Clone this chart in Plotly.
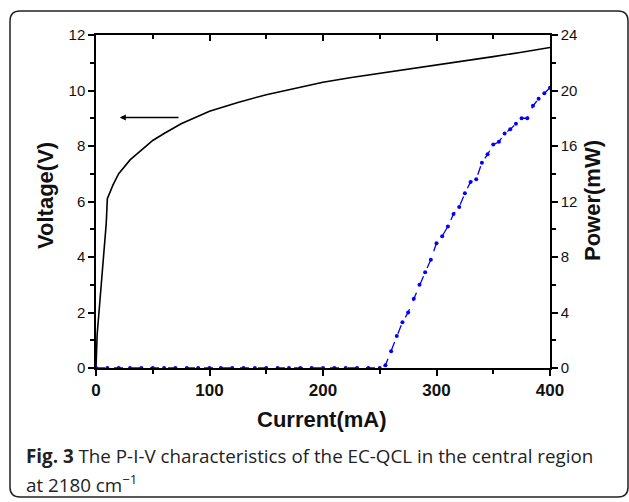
import plotly.graph_objects as go

# Voltage curve (left axis)
current_v = [0, 1, 3, 5, 7, 9, 10, 15, 20, 30, 40, 50, 60, 75, 100, 125, 150,
             175, 200, 225, 250, 275, 300, 325, 350, 375, 400]
voltage = [0, 1.2, 2.2, 3.2, 4.2, 5.2, 6.1, 6.6, 7.0, 7.5, 7.85, 8.2, 8.45, 8.8,
           9.25, 9.57, 9.85, 10.08, 10.3, 10.47, 10.62, 10.76, 10.9, 11.05, 11.22,
           11.38, 11.55]

# Power curve (right axis)
current_p = [0, 10, 20, 30, 40, 50, 60, 70, 80, 90, 100, 110, 120, 130, 140, 150,
             160, 170, 180, 190, 200, 210, 220, 230, 240, 250,
             255, 260, 265, 270, 275, 280, 285, 290, 295, 300, 305, 310, 315, 320,
             325, 330, 335, 340, 345, 350, 355, 360, 365, 370, 375, 380, 385, 390,
             395, 400]
power = [0] * 26 + [0.2, 1.2, 2.3, 3.3, 4.0, 5.0, 6.0, 6.9, 7.8, 9.0, 9.5, 10.2,
                    11.1, 11.6, 12.6, 13.4, 13.6, 14.8, 15.4, 16.1, 16.3, 16.9,
                    17.2, 17.6, 18.0, 18.0, 18.9, 19.4, 19.8, 20.2]

W, H = 629, 502


def px(x):
    return x / W


def py(y):
    return 1 - y / H


fig = go.Figure()
fig.add_trace(go.Scatter(x=current_v, y=voltage, mode="lines",
                         line=dict(color="black", width=1.6),
                         showlegend=False, hoverinfo="skip"))
fig.add_trace(go.Scatter(x=current_p, y=power, mode="lines+markers", yaxis="y2",
                         line=dict(color="#0000ff", width=1.3, dash="dash"),
                         marker=dict(color="#0000ff", size=4),
                         showlegend=False, hoverinfo="skip"))
# dummy trace so that the top tick axis is drawn
fig.add_trace(go.Scatter(x=[0], y=[0], xaxis="x3", mode="lines",
                         showlegend=False, hoverinfo="skip"))

axis_font = dict(family="Liberation Sans, Arial, sans-serif", size=15, color="#111")
common = dict(showgrid=False, zeroline=False, automargin=False,
              tickcolor="black", tickwidth=1.5, ticklen=6)

fig.update_layout(
    width=W, height=H,
    margin=dict(l=0, r=0, t=0, b=0, autoexpand=False),
    paper_bgcolor="white", plot_bgcolor="white",
    xaxis=dict(domain=[px(96), px(550)], range=[0, 400], dtick=100,
               showline=True, linecolor="black", linewidth=1.5, mirror=True,
               ticks="outside",
               minor=dict(dtick=50, ticks="outside", ticklen=4, tickcolor="black"),
               tickfont=dict(family="Liberation Sans, Arial, sans-serif", size=17,
                             color="#111", weight="bold"), **common),
    xaxis3=dict(overlaying="x", side="top", range=[0, 400], dtick=100,
                showticklabels=False, ticks="inside",
                minor=dict(dtick=50, ticks="inside", ticklen=4, tickcolor="black"),
                **common),
    yaxis=dict(domain=[py(368), py(35)], range=[0, 12], dtick=2,
               showline=True, linecolor="black", linewidth=1.5, ticks="outside",
               minor=dict(dtick=1, ticks="outside", ticklen=4, tickcolor="black"),
               tickfont=axis_font, **common),
    yaxis2=dict(overlaying="y", side="right", range=[0, 24], dtick=4,
                showline=True, linecolor="black", linewidth=1.5, ticks="outside",
                minor=dict(dtick=2, ticks="outside", ticklen=4, tickcolor="black"),
                tickfont=axis_font, **common),
)

title_font = dict(family="Liberation Sans, Arial, sans-serif", size=22,
                  color="#111", weight="bold")
cap_font = dict(family="Open Sans, sans-serif", size=18.8, color="#222")

for txt, x, y, ang in [("Voltage(V)", 45, 196, -90), ("Power(mW)", 592, 201, -90),
                       ("Current(mA)", 322, 419, 0)]:
    fig.add_annotation(x=px(x), y=py(y), xref="paper", yref="paper",
                       xanchor="center", yanchor="middle", text=txt,
                       textangle=ang, showarrow=False, font=title_font)

fig.add_annotation(x=px(24), y=py(456), xref="paper", yref="paper",
                   xanchor="left", yanchor="middle", align="left",
                   text="<b>Fig. 3</b> The P-I-V characteristics of the EC-QCL in the central region",
                   showarrow=False, font=cap_font)
fig.add_annotation(x=px(24), y=py(484), xref="paper", yref="paper",
                   xanchor="left", yanchor="middle", align="left",
                   text="at 2180 cm<sup>−1</sup>", showarrow=False, font=cap_font)

# arrow pointing to the voltage axis
fig.add_annotation(x=21, y=9.03, ax=74, ay=9.03, xref="x", yref="y",
                   axref="x", ayref="y", text="", showarrow=True,
                   arrowhead=2, arrowsize=0.8, arrowwidth=1.5, arrowcolor="black")

# rounded frame around the figure
l, t, r, b = px(10), py(11), px(628), py(497)
rx, ry = 10 / W, 10 / H
path = (f"M {l + rx},{t} L {r - rx},{t} Q {r},{t} {r},{t - ry} "
        f"L {r},{b + ry} Q {r},{b} {r - rx},{b} L {l + rx},{b} "
        f"Q {l},{b} {l},{b + ry} L {l},{t - ry} Q {l},{t} {l + rx},{t} Z")
fig.add_shape(type="path", path=path, xref="paper", yref="paper",
              line=dict(color="#222", width=1.5))

fig.write_html("out.html", config={"displayModeBar": False},
               post_script="document.body.style.margin='0';"
                           "document.body.style.overflow='hidden';")
